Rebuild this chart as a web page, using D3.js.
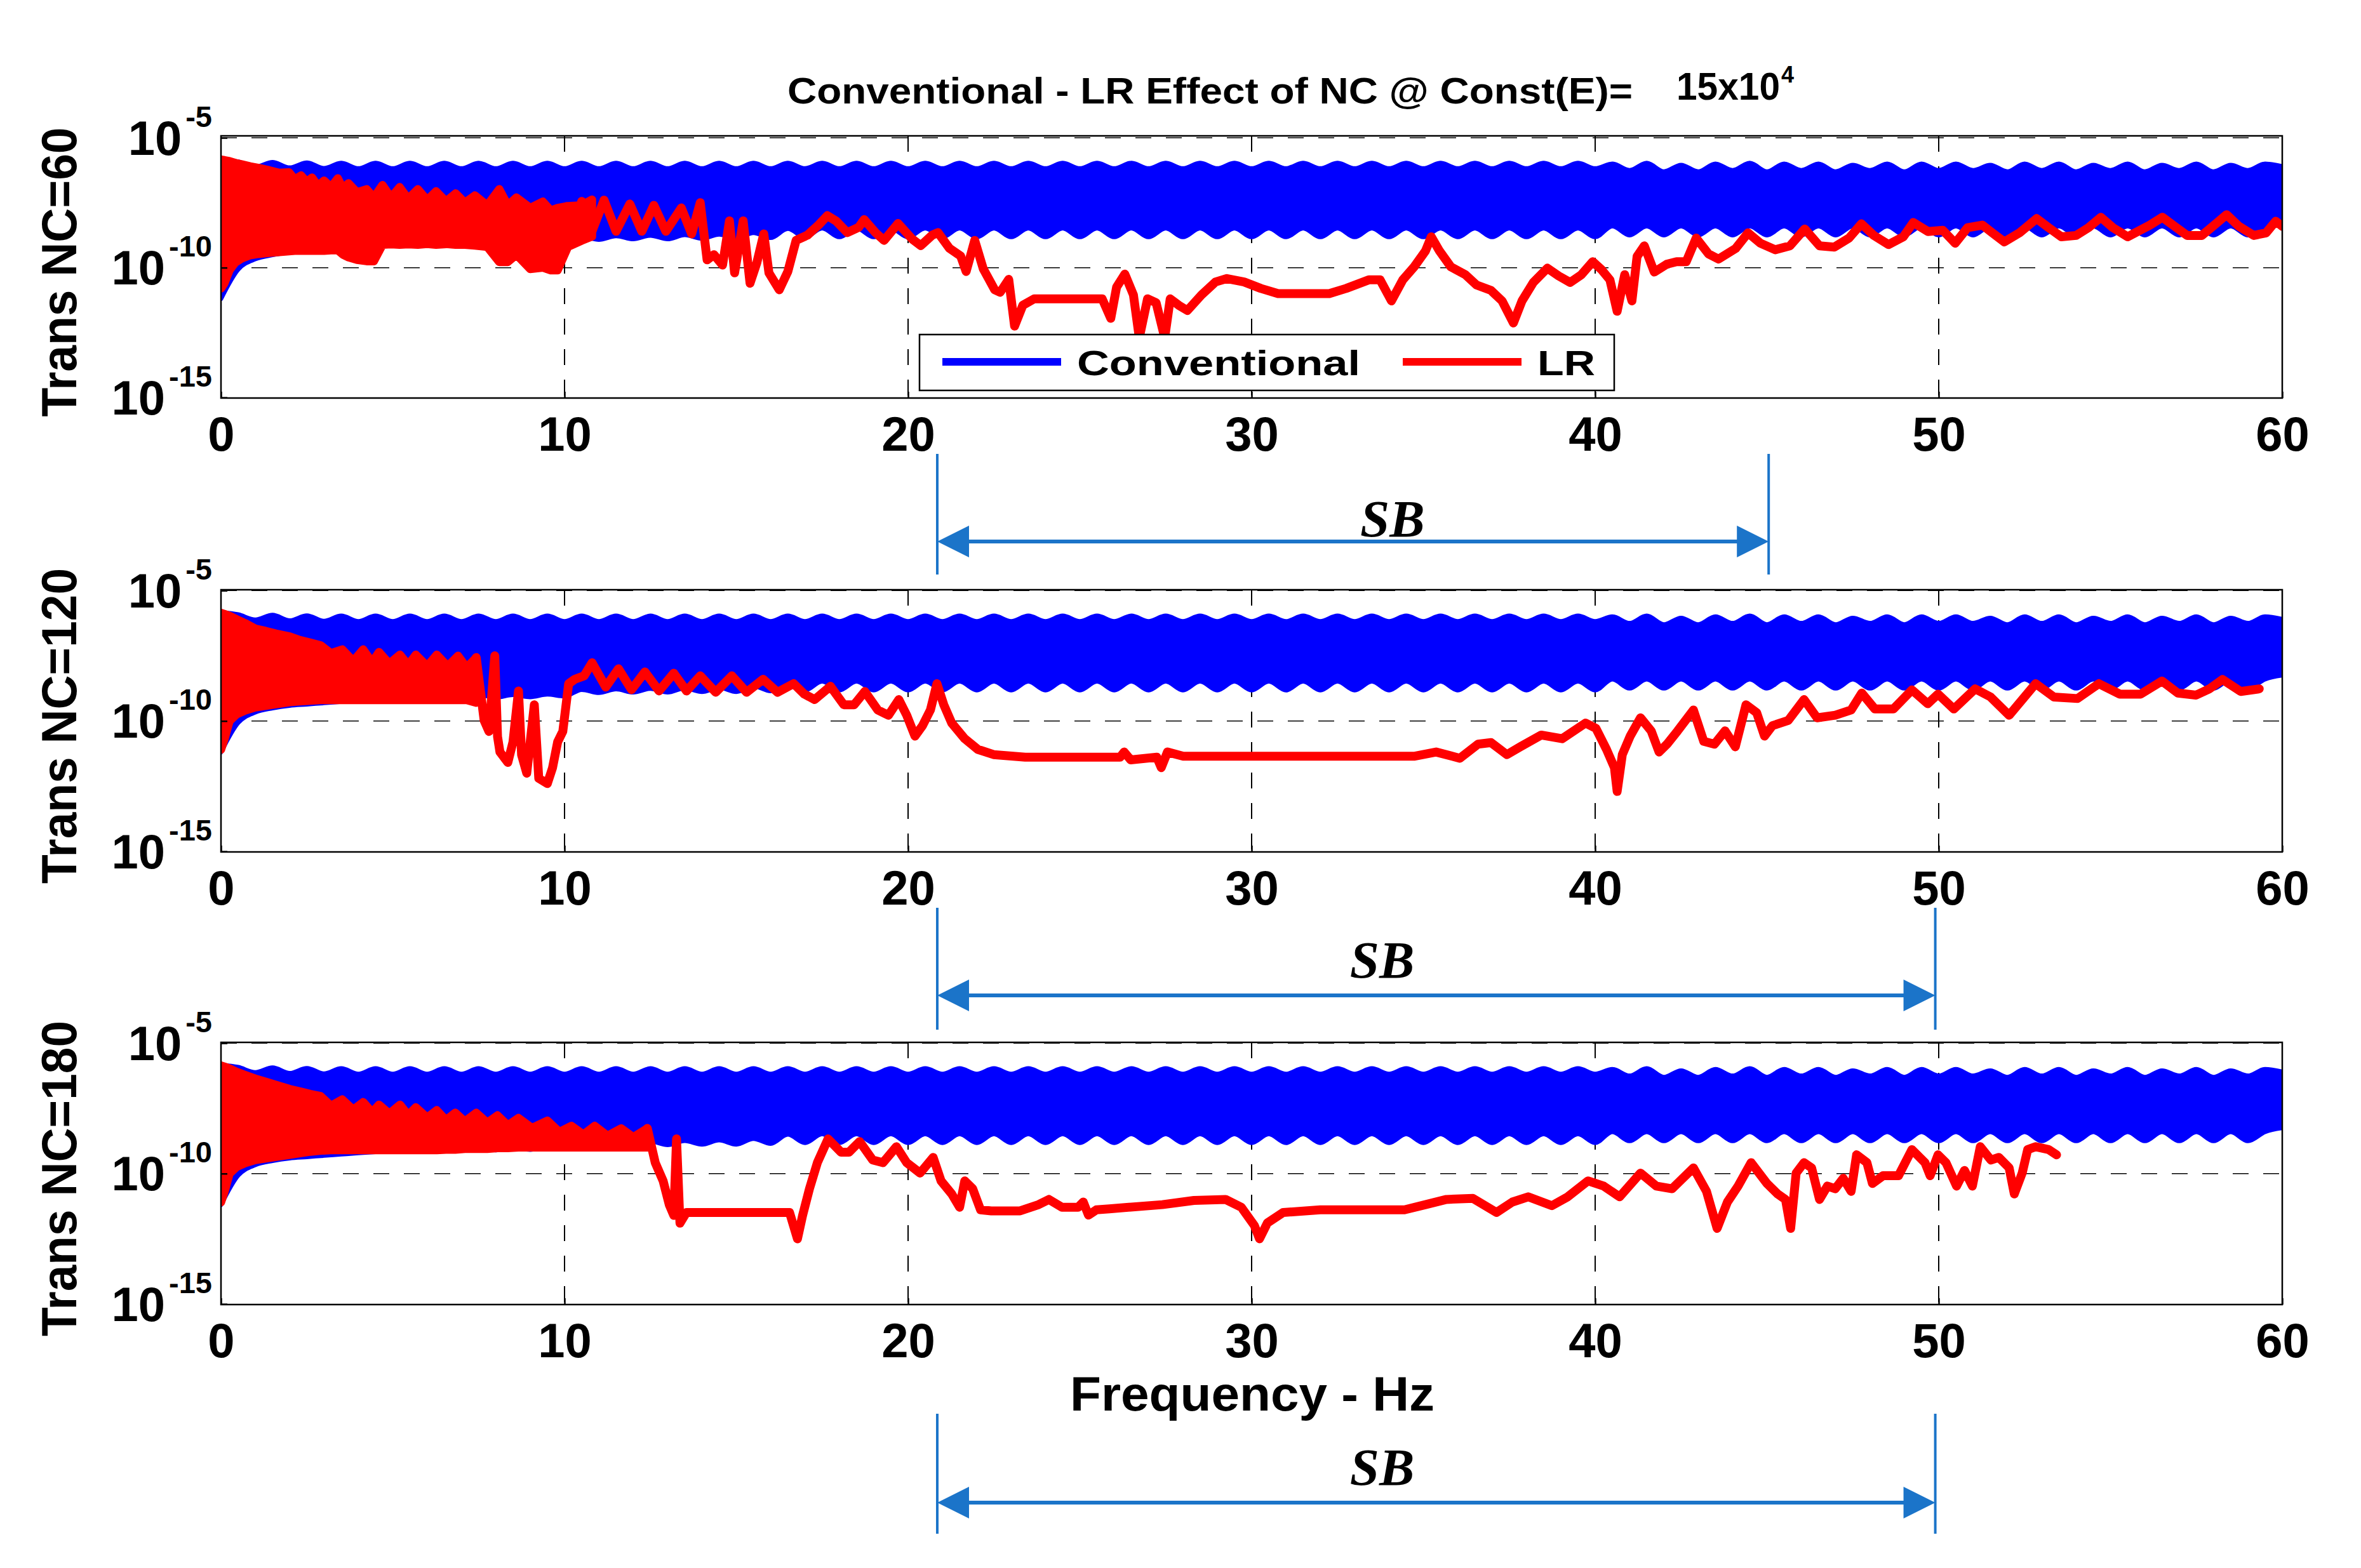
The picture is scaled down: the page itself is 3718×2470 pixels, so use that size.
<!DOCTYPE html>
<html>
<head>
<meta charset="utf-8">
<script src="https://cdn.jsdelivr.net/npm/d3@7"></script>
<style>
  body { margin: 0; background: #fff; }
  svg { display: block; }
</style>
</head>
<body>
<svg id="chart"></svg>
<script>
// ---- data ----
const xTicks = [0, 10, 20, 30, 40, 50, 60]
const yTickExps = [-15, -10, -5]
const panelLabels = ['Trans NC=60', 'Trans NC=120', 'Trans NC=180']
const seriesNames = ['Conventional', 'LR']
const titleText = 'Conventional - LR Effect of NC @ Const(E)='
const constE = ['15x10', '4']
const xLabel = 'Frequency - Hz'

// conventional response (same in every panel): envelope of the dense oscillation, exponent of 10
const convFreq = [0, 0.5, 1, 1.5, 2, 2.5, 3, 3.5, 4, 4.5, 5, 5.5, 6, 6.5, 7, 7.5, 8, 8.5, 9, 9.5,
  10, 10.5, 11, 11.5, 12, 12.5, 13, 13.5, 14, 14.5, 15, 15.5, 16, 16.5, 17, 17.5, 18, 18.5, 19, 19.5,
  20, 20.5, 21, 21.5, 22, 22.5, 23, 23.5, 24, 24.5, 25, 25.5, 26, 26.5, 27, 27.5, 28, 28.5, 29, 29.5,
  30, 30.5, 31, 31.5, 32, 32.5, 33, 33.5, 34, 34.5, 35, 35.5, 36, 36.5, 37, 37.5, 38, 38.5, 39, 39.5,
  40, 40.5, 41, 41.5, 42, 42.5, 43, 43.5, 44, 44.5, 45, 45.5, 46, 46.5, 47, 47.5, 48, 48.5, 49, 49.5,
  50, 50.5, 51, 51.5, 52, 52.5, 53, 53.5, 54, 54.5, 55, 55.5, 56, 56.5, 57, 57.5, 58, 58.5, 59, 59.5, 60]
const convUpper = [-5.84,
  -5.92, -6.12, -5.94, -6.15, -5.96, -6.17, -5.97, -6.18, -5.97, -6.18,
  -5.97, -6.18, -5.97, -6.18, -5.97, -6.18, -5.97, -6.18, -5.97, -6.18,
  -5.97, -6.18, -5.97, -6.18, -5.97, -6.18, -5.97, -6.18, -5.97, -6.18,
  -5.97, -6.18, -5.97, -6.18, -5.97, -6.18, -5.97, -6.18, -5.97, -6.18,
  -5.97, -6.18, -5.97, -6.18, -5.97, -6.18, -5.97, -6.18, -5.97, -6.18,
  -5.97, -6.18, -5.97, -6.18, -5.97, -6.18, -5.97, -6.18, -5.97, -6.18,
  -5.97, -6.18, -5.97, -6.18, -5.97, -6.18, -5.97, -6.18, -5.97, -6.18,
  -5.97, -6.18, -5.97, -6.18, -5.97, -6.18, -5.97, -6.18, -5.97, -6.18,
  -6.0, -6.25, -5.97, -6.3, -6.05, -6.3, -6.0, -6.25, -5.97, -6.3,
  -6.0, -6.25, -6.0, -6.3, -6.05, -6.25, -6.0, -6.3, -6.0, -6.25,
  -6.0, -6.25, -6.05, -6.3, -6.0, -6.25, -6.0, -6.3, -6.05, -6.25,
  -6.0, -6.3, -6.05, -6.25, -6.0, -6.3, -6.05, -6.25, -6.0, -6.1]
const convLower = [-11.2,
  -10.07, -9.67, -9.51, -9.41, -9.36, -9.31, -9.26, -9.21, -9.17, -9.14,
  -9.04, -9.12, -9.02, -9.1, -9.0, -9.1, -9.0, -9.08, -8.98, -9.05,
  -8.8, -8.92, -8.78, -8.9, -8.76, -8.9, -8.74, -8.88, -8.72, -8.88,
  -8.66, -8.85, -8.5, -8.82, -8.48, -8.82, -8.48, -8.82, -8.48, -8.82,
  -8.48, -8.82, -8.48, -8.82, -8.48, -8.82, -8.48, -8.82, -8.48, -8.82,
  -8.48, -8.82, -8.48, -8.82, -8.48, -8.82, -8.48, -8.82, -8.48, -8.82,
  -8.48, -8.82, -8.48, -8.82, -8.48, -8.82, -8.48, -8.82, -8.48, -8.82,
  -8.48, -8.82, -8.48, -8.82, -8.48, -8.82, -8.48, -8.82, -8.48, -8.82,
  -8.4, -8.75, -8.4, -8.75, -8.4, -8.75, -8.4, -8.75, -8.4, -8.75,
  -8.4, -8.75, -8.4, -8.75, -8.4, -8.75, -8.4, -8.75, -8.4, -8.75,
  -8.4, -8.75, -8.4, -8.75, -8.4, -8.75, -8.4, -8.75, -8.4, -8.75,
  -8.4, -8.75, -8.4, -8.75, -8.4, -8.75, -8.4, -8.75, -8.4, -8.25]

// LR response, dense low-frequency part: [Hz, top exponent, bottom exponent]
const lrBand60 = [[0,-5.84,-10.8],[0.1,-5.86,-10.6],[0.25,-5.9,-10.1],[0.42,-5.97,-9.8],[0.6,-6.02,-9.65],
  [0.85,-6.1,-9.52],[1.1,-6.16,-9.47],[1.4,-6.25,-9.43],[1.7,-6.35,-9.4],[1.98,-6.33,-9.37],[2.15,-6.6,-9.35],
  [2.33,-6.45,-9.35],[2.5,-6.7,-9.35],[2.65,-6.53,-9.35],[2.82,-6.85,-9.35],[3.0,-6.65,-9.35],[3.2,-6.9,-9.33],
  [3.4,-6.56,-9.33],[3.55,-6.95,-9.5],[3.71,-6.75,-9.6],[3.96,-7.1,-9.7],[4.24,-6.98,-9.75],[4.45,-7.3,-9.75],
  [4.7,-6.82,-9.12],[4.95,-7.3,-9.1],[5.2,-6.9,-9.12],[5.45,-7.35,-9.1],[5.73,-6.98,-9.12],[6.0,-7.4,-9.09],
  [6.26,-7.06,-9.12],[6.55,-7.45,-9.09],[6.83,-7.14,-9.12],[7.1,-7.5,-9.12],[7.39,-7.22,-9.15],[7.75,-7.6,-9.2],
  [8.1,-6.98,-9.78],[8.35,-7.6,-9.78],[8.6,-7.3,-9.5],[9.0,-7.7,-10.05],[9.37,-7.46,-10.0],[9.6,-7.8,-10.1],
  [9.8,-7.7,-10.1],[10.1,-7.63,-9.2],[10.5,-7.6,-8.96],[10.8,-7.38,-8.8]]
const lrBand120 = [[0,-5.86,-11.1],[0.1,-5.9,-10.7],[0.25,-5.97,-10.0],[0.45,-6.1,-9.75],[0.7,-6.25,-9.6],
  [1.0,-6.46,-9.48],[1.3,-6.55,-9.42],[1.6,-6.65,-9.36],[2.0,-6.76,-9.28],[2.3,-6.9,-9.25],[2.6,-7.0,-9.22],
  [2.9,-7.1,-9.2],[3.2,-7.4,-9.2],[3.53,-7.26,-9.2],[3.85,-7.7,-9.2],[4.14,-7.26,-9.2],[4.4,-7.75,-9.2],
  [4.6,-7.36,-9.2],[4.9,-7.8,-9.2],[5.21,-7.46,-9.2],[5.45,-7.85,-9.2],[5.67,-7.46,-9.2],[6.0,-7.9,-9.2],
  [6.28,-7.46,-9.2],[6.6,-7.9,-9.2],[6.9,-7.5,-9.2],[7.15,-7.95,-9.2],[7.43,-7.57,-9.3]]
const lrBand180 = [[0,-5.86,-11.1],[0.1,-5.9,-10.7],[0.25,-5.97,-10.0],[0.45,-6.1,-9.75],[0.7,-6.22,-9.6],
  [1.0,-6.36,-9.48],[1.3,-6.48,-9.42],[1.6,-6.6,-9.36],[2.0,-6.76,-9.28],[2.3,-6.85,-9.22],[2.6,-6.95,-9.16],
  [2.9,-7.03,-9.12],[3.2,-7.4,-9.1],[3.53,-7.16,-9.1],[3.85,-7.55,-9.1],[4.14,-7.26,-9.1],[4.4,-7.65,-9.1],
  [4.6,-7.36,-9.1],[4.9,-7.7,-9.1],[5.21,-7.36,-9.1],[5.45,-7.75,-9.1],[5.67,-7.46,-9.1],[6.0,-7.85,-9.1],
  [6.28,-7.57,-9.1],[6.55,-7.95,-9.08],[6.82,-7.67,-9.08],[7.1,-8.0,-9.05],[7.43,-7.67,-9.05],[7.75,-8.05,-9.05],
  [8.05,-7.77,-9.02],[8.35,-8.15,-9.02],[8.66,-7.87,-9.0],[9.05,-8.25,-9.0],[9.5,-7.97,-9.0],[9.85,-8.4,-9.0],
  [10.2,-8.17,-9.0],[10.55,-8.5,-9.0],[10.88,-8.17,-9.0],[11.25,-8.55,-9.0],[11.65,-8.27,-9.0],[12.0,-8.6,-9.0],
  [12.41,-8.27,-9.0]]

// LR response, remaining trace: [Hz, exponent of 10]
const lr60 = [[10.05,-7.65],[10.3,-8.5],[10.5,-7.45],
  [10.8,-8.6],[11.15,-7.4],[11.5,-8.6],[11.9,-7.55],[12.25,-8.6],[12.6,-7.6],[12.95,-8.6],[13.4,-7.7],[13.7,-8.7],
  [13.95,-7.5],[14.15,-9.7],[14.35,-9.5],[14.6,-9.9],[14.8,-8.2],[14.95,-10.2],[15.2,-8.2],[15.4,-10.6],
  [15.6,-9.8],[15.8,-8.7],[15.95,-10.2],[16.25,-10.85],[16.5,-10.15],[16.74,-8.95],[17.07,-8.75],[17.4,-8.35],
  [17.65,-8.0],[17.9,-8.2],[18.23,-8.65],[18.56,-8.45],[18.72,-8.15],[19.05,-8.65],[19.3,-8.95],[19.71,-8.3],
  [20.12,-8.9],[20.37,-9.15],[20.7,-8.75],[20.87,-8.65],[21.2,-9.25],[21.53,-9.55],[21.69,-10.15],[21.94,-8.95],
  [22.19,-10.05],[22.52,-10.85],[22.68,-10.95],[22.93,-10.45],[23.1,-12.25],[23.34,-11.45],[23.67,-11.2],
  [25.65,-11.2],[25.9,-11.95],[26.07,-10.75],[26.31,-10.25],[26.56,-11.05],[26.73,-12.7],[26.97,-11.2],
  [27.22,-11.35],[27.47,-12.7],[27.63,-11.2],[27.88,-11.45],[28.13,-11.65],[28.54,-11.05],[28.95,-10.55],
  [29.28,-10.42],[29.78,-10.55],[30.27,-10.8],[30.77,-11.0],[32.26,-11.0],[32.75,-10.8],[33.41,-10.47],
  [33.74,-10.47],[34.07,-11.28],[34.4,-10.47],[34.73,-9.97],[35.06,-9.36],[35.23,-8.81],[35.47,-9.36],
  [35.8,-9.97],[36.22,-10.27],[36.55,-10.67],[36.96,-10.87],[37.29,-11.28],[37.62,-12.13],[37.87,-11.28],
  [38.2,-10.57],[38.61,-10.02],[38.94,-10.32],[39.27,-10.57],[39.6,-10.27],[39.93,-9.77],[40.18,-10.07],
  [40.43,-10.47],[40.64,-11.68],[40.86,-10.27],[41.07,-11.28],[41.22,-9.57],[41.43,-9.16],[41.72,-10.17],
  [42.08,-9.87],[42.37,-9.77],[42.65,-9.77],[42.94,-8.86],[43.3,-9.47],[43.59,-9.67],[44.09,-9.26],[44.45,-8.66],
  [44.81,-9.06],[45.24,-9.31],[45.67,-9.16],[46.1,-8.51],[46.53,-9.16],[46.96,-9.21],[47.39,-8.86],[47.75,-8.31],
  [48.11,-8.76],[48.54,-9.11],[48.97,-8.81],[49.26,-8.26],[49.69,-8.61],[50.12,-8.56],[50.48,-9.06],[50.84,-8.46],
  [51.27,-8.36],[51.56,-8.66],[51.91,-9.01],[52.35,-8.66],[52.85,-8.11],[53.2,-8.46],[53.57,-8.81],[54.0,-8.76],
  [54.36,-8.46],[54.72,-8.06],[55.07,-8.46],[55.5,-8.81],[55.86,-8.56],[56.15,-8.36],[56.51,-8.06],[56.87,-8.41],
  [57.23,-8.76],[57.66,-8.76],[58.02,-8.36],[58.38,-7.96],[58.74,-8.41],[59.17,-8.76],[59.53,-8.66],[59.81,-8.21],
  [60.0,-8.41]]

const lr120 = [[7.43,-7.57],[7.66,-9.98],[7.8,-10.4],[7.97,-7.5],[8.05,-10.6],[8.12,-11.19],[8.35,-11.59],
  [8.5,-10.8],[8.66,-8.85],[8.75,-11.3],[8.9,-12.0],[9.12,-9.38],[9.25,-12.2],[9.5,-12.4],[9.65,-11.8],
  [9.8,-10.8],[9.95,-10.4],[10.12,-8.57],[10.3,-8.4],[10.57,-8.27],[10.8,-7.77],[11.2,-8.7],[11.57,-8.0],
  [11.95,-8.8],[12.34,-8.12],[12.75,-8.85],[13.18,-8.17],[13.55,-8.85],[13.95,-8.27],[14.4,-8.9],[14.87,-8.27],
  [15.3,-8.9],[15.78,-8.4],[16.2,-8.9],[16.67,-8.57],[16.98,-8.97],[17.28,-9.18],[17.74,-8.67],[18.13,-9.38],
  [18.43,-9.38],[18.74,-8.87],[19.12,-9.58],[19.43,-9.78],[19.73,-9.18],[19.96,-9.78],[20.2,-10.58],[20.42,-10.18],
  [20.65,-9.58],[20.84,-8.57],[21.04,-9.38],[21.27,-10.08],[21.65,-10.68],[22.03,-11.09],[22.49,-11.29],
  [23.41,-11.39],[26.17,-11.39],[26.29,-11.19],[26.48,-11.49],[27.24,-11.39],[27.37,-11.79],[27.55,-11.19],
  [28.01,-11.35],[34.75,-11.35],[35.37,-11.19],[36.06,-11.43],[36.59,-10.89],[36.97,-10.83],[37.43,-11.29],
  [37.82,-10.99],[38.43,-10.54],[39.04,-10.68],[39.72,-10.08],[40.02,-10.28],[40.33,-11.09],[40.56,-11.79],
  [40.64,-12.7],[40.79,-11.29],[41.02,-10.58],[41.32,-9.88],[41.63,-10.38],[41.86,-11.19],[42.09,-10.89],
  [42.4,-10.38],[42.86,-9.58],[43.16,-10.78],[43.47,-10.89],[43.78,-10.38],[44.08,-10.99],[44.39,-9.38],
  [44.7,-9.68],[44.93,-10.58],[45.16,-10.18],[45.62,-9.98],[46.08,-9.18],[46.46,-9.88],[46.99,-9.78],
  [47.45,-9.58],[47.76,-8.93],[48.14,-9.54],[48.68,-9.54],[49.22,-8.81],[49.68,-9.34],[49.98,-8.97],
  [50.44,-9.54],[51.06,-8.77],[51.51,-9.08],[52.05,-9.78],[52.82,-8.57],[53.35,-9.08],[54.04,-9.14],
  [54.66,-8.57],[55.27,-8.97],[55.88,-8.97],[56.5,-8.47],[56.96,-8.93],[57.49,-9.01],[57.88,-8.77],
  [58.26,-8.41],[58.79,-8.87],[59.33,-8.77]]

const lr180 = [[12.41,-8.27],[12.64,-9.58],
  [12.87,-10.28],[13.05,-11.2],[13.18,-11.6],[13.26,-8.67],[13.36,-11.9],[13.55,-11.49],[16.55,-11.49],
  [16.78,-12.5],[16.93,-11.6],[17.13,-10.58],[17.36,-9.58],[17.67,-8.67],[18.05,-9.18],[18.28,-9.18],
  [18.59,-8.77],[18.97,-9.48],[19.27,-9.58],[19.66,-8.97],[19.96,-9.58],[20.35,-9.98],[20.73,-9.38],
  [20.96,-10.28],[21.27,-10.78],[21.5,-11.29],[21.65,-10.28],[21.88,-10.58],[22.11,-11.39],[22.42,-11.43],
  [23.26,-11.43],[23.8,-11.19],[24.1,-10.99],[24.48,-11.29],[24.95,-11.29],[25.1,-11.09],[25.25,-11.59],
  [25.48,-11.39],[25.86,-11.35],[27.4,-11.19],[28.32,-11.03],[29.24,-10.99],[29.7,-11.29],[30.08,-11.99],
  [30.23,-12.5],[30.46,-11.89],[30.92,-11.49],[32.0,-11.39],[34.45,-11.39],[35.06,-11.19],[35.67,-10.99],
  [36.44,-10.95],[37.13,-11.49],[37.59,-11.09],[38.05,-10.89],[38.74,-11.23],[39.2,-10.89],[39.79,-10.28],
  [40.25,-10.48],[40.71,-10.89],[41.32,-9.98],[41.78,-10.48],[42.24,-10.58],[42.86,-9.78],[43.24,-10.68],
  [43.55,-12.1],[43.85,-11.09],[44.16,-10.48],[44.54,-9.58],[45.0,-10.38],[45.31,-10.78],[45.54,-10.99],
  [45.69,-12.1],[45.85,-9.98],[46.08,-9.58],[46.3,-9.78],[46.53,-10.99],[46.76,-10.48],[46.99,-10.58],
  [47.22,-10.18],[47.45,-10.68],[47.61,-9.28],[47.91,-9.58],[48.07,-10.38],[48.38,-10.08],[48.83,-10.08],
  [49.22,-9.08],[49.6,-9.58],[49.75,-10.08],[49.98,-9.28],[50.21,-9.58],[50.52,-10.48],[50.75,-9.88],
  [50.98,-10.48],[51.21,-8.97],[51.52,-9.48],[51.75,-9.38],[52.05,-9.78],[52.2,-10.78],[52.43,-9.98],
  [52.59,-9.08],[52.82,-8.97],[53.2,-9.08],[53.43,-9.28]]

const lrBands = [lrBand60, lrBand120, lrBand180]
const lrSets = [lr60, lr120, lr180]

// stop band markers (Hz): start, end, label position
const sbStart = [20.85, 20.85, 20.85]
const sbEnd = [45.05, 49.9, 49.9]
const sbLabelAt = [34.1, 33.8, 33.8]

// ---- layout ----
const W = 3718, H = 2470
const left = 348, right = 3594
const panelTops = [214, 929, 1642]
const panelYTop = [-4.925, -4.97, -4.97]  // upper y limit exponent
const ph = 413
const sbRows = [  // vertical extent of the markers, arrow y, label baseline
  { y0: 715, y1: 905, ay: 853, ty: 845 },
  { y0: 1430, y1: 1622, ay: 1568, ty: 1540 },
  { y0: 2227, y1: 2416, ay: 2367, ty: 2339 }
]
const blue = '#0000ff', red = '#ff0000', sbColor = '#1b74c9'
const sans = 'Arial, "Liberation Sans", sans-serif'

const svg = d3.select('#chart').attr('width', W).attr('height', H)
  .attr('font-family', sans).attr('font-weight', 'bold')
svg.append('rect').attr('width', W).attr('height', H).attr('fill', '#fff')

const x = d3.scaleLinear().domain([0, 60]).range([left, right])

panelTops.forEach((top, i) => {
  const y = d3.scaleLog().domain([10 ** -15.02, 10 ** panelYTop[i]]).range([top + ph, top])
  const g = svg.append('g')

  const clipId = 'clip' + i
  g.append('clipPath').attr('id', clipId)
    .append('rect').attr('x', left).attr('y', top).attr('width', right - left).attr('height', ph)

  // dashed grid
  const grid = g.append('g').attr('stroke', '#000').attr('stroke-dasharray', '25,23')
  grid.selectAll('.vg').data(xTicks.slice(1, -1)).join('line')
    .attr('stroke-width', 2)
    .attr('x1', d => x(d)).attr('x2', d => x(d)).attr('y1', top).attr('y2', top + ph)
  grid.selectAll('.hg').data(yTickExps.slice(1)).join('line')
    .attr('stroke-width', 1.5)
    .attr('x1', left).attr('x2', right).attr('y1', d => y(10 ** d)).attr('y2', d => y(10 ** d))

  const plot = g.append('g').attr('clip-path', `url(#${clipId})`)

  // conventional band
  const conv = convFreq.map((f, k) => ({ f, hi: 10 ** convUpper[k], lo: 10 ** convLower[k] }))
  plot.append('path').datum(conv)
    .attr('fill', blue).attr('stroke', blue).attr('stroke-width', 7).attr('stroke-linejoin', 'round')
    .attr('d', d3.area().curve(d3.curveMonotoneX).x(d => x(d.f)).y0(d => y(d.lo)).y1(d => y(d.hi)))

  // LR: dense part as a band, then the trace
  plot.append('path').datum(lrBands[i])
    .attr('fill', red).attr('stroke', red).attr('stroke-width', 13).attr('stroke-linejoin', 'round')
    .attr('d', d3.area().x(d => x(d[0])).y0(d => y(10 ** d[2])).y1(d => y(10 ** d[1])))
  plot.append('path').datum(lrSets[i])
    .attr('fill', 'none').attr('stroke', red).attr('stroke-width', 14)
    .attr('stroke-linejoin', 'round').attr('stroke-linecap', 'round')
    .attr('d', d3.line().x(d => x(d[0])).y(d => y(10 ** d[1])))

  // axes
  const xAxis = g.append('g').attr('transform', `translate(0,${top + ph})`)
    .call(d3.axisBottom(x).tickValues(xTicks).tickSize(-10).tickPadding(29))
  xAxis.select('.domain').remove()
  xAxis.selectAll('.tick line').attr('stroke', '#000').attr('stroke-width', 2.5)
  xAxis.selectAll('.tick text').attr('font-size', 76).attr('font-family', sans)
    .attr('font-weight', 'bold').attr('fill', '#000')

  const yAxis = g.append('g').attr('transform', `translate(${left},0)`)
    .call(d3.axisLeft(y).tickValues(yTickExps.map(e => 10 ** e)).tickSize(-10).tickFormat(''))
  yAxis.select('.domain').remove()
  yAxis.selectAll('.tick line').attr('stroke', '#000').attr('stroke-width', 2.5)
  yAxis.selectAll('.tick').each(function (d) {
    const t = d3.select(this).append('text')
      .attr('x', -14).attr('y', 26).attr('text-anchor', 'end').attr('fill', '#000')
      .attr('font-family', sans).attr('font-weight', 'bold')
    t.append('tspan').attr('font-size', 76).text('10')
    t.append('tspan').attr('font-size', 47).attr('dx', 6).attr('dy', -44).text(String(Math.round(Math.log10(d))))
  })

  g.append('rect').attr('x', left).attr('y', top).attr('width', right - left).attr('height', ph)
    .attr('fill', 'none').attr('stroke', '#000').attr('stroke-width', 2.5)

  // y label
  const yl = top + ph / 2 + 8
  g.append('text').attr('transform', `translate(120,${yl}) rotate(-90)`)
    .attr('text-anchor', 'middle').attr('font-size', 78)
    .attr('textLength', i === 0 ? 456 : 497).attr('lengthAdjust', 'spacingAndGlyphs')
    .text(panelLabels[i])

  // stop band marker
  const r = sbRows[i]
  const sb = svg.append('g').attr('fill', sbColor).attr('stroke', sbColor)
  const xa = x(sbStart[i]), xb = x(sbEnd[i])
  sb.append('line').attr('x1', xa).attr('x2', xa).attr('y1', r.y0).attr('y2', r.y1).attr('stroke-width', 4)
  sb.append('line').attr('x1', xb).attr('x2', xb).attr('y1', r.y0).attr('y2', r.y1).attr('stroke-width', 4)
  sb.append('line').attr('x1', xa + 40).attr('x2', xb - 40).attr('y1', r.ay).attr('y2', r.ay).attr('stroke-width', 6)
  sb.append('path').attr('stroke', 'none')
    .attr('d', `M${xa},${r.ay}L${xa + 50},${r.ay - 25}L${xa + 50},${r.ay + 25}Z`)
  sb.append('path').attr('stroke', 'none')
    .attr('d', `M${xb},${r.ay}L${xb - 50},${r.ay - 25}L${xb - 50},${r.ay + 25}Z`)
  svg.append('text').attr('x', x(sbLabelAt[i])).attr('y', r.ty).attr('text-anchor', 'middle')
    .attr('font-family', '"Liberation Serif", "Times New Roman", serif')
    .attr('font-style', 'italic').attr('font-weight', 'bold').attr('font-size', 83).attr('fill', '#000')
    .text('SB')
})

// legend in the first panel
const leg = svg.append('g')
leg.append('rect').attr('x', 1448).attr('y', 527).attr('width', 1094).attr('height', 88)
  .attr('fill', '#fff').attr('stroke', '#000').attr('stroke-width', 2.5)
leg.append('line').attr('x1', 1484).attr('x2', 1671).attr('y1', 570).attr('y2', 570)
  .attr('stroke', blue).attr('stroke-width', 12)
leg.append('text').attr('x', 1696).attr('y', 591).attr('font-size', 56)
  .attr('textLength', 446).attr('lengthAdjust', 'spacingAndGlyphs').text(seriesNames[0])
leg.append('line').attr('x1', 2209).attr('x2', 2396).attr('y1', 570).attr('y2', 570)
  .attr('stroke', red).attr('stroke-width', 12)
leg.append('text').attr('x', 2421).attr('y', 591).attr('font-size', 56)
  .attr('textLength', 91).attr('lengthAdjust', 'spacingAndGlyphs').text(seriesNames[1])

// title
svg.append('text').attr('x', 1240).attr('y', 163).attr('font-size', 58)
  .attr('textLength', 1331).attr('lengthAdjust', 'spacingAndGlyphs').text(titleText)
svg.append('text').attr('x', 2640).attr('y', 157).attr('font-size', 62)
  .attr('font-family', '"Liberation Sans Narrow", "Arial Narrow", "Liberation Sans", sans-serif')
  .attr('textLength', 163).attr('lengthAdjust', 'spacingAndGlyphs').text(constE[0])
svg.append('text').attr('x', 2805).attr('y', 130).attr('font-size', 36)
  .attr('font-family', '"Liberation Sans Narrow", "Arial Narrow", "Liberation Sans", sans-serif')
  .text(constE[1])

// x label
svg.append('text').attr('x', 1685).attr('y', 2222).attr('font-size', 76)
  .attr('textLength', 574).attr('lengthAdjust', 'spacingAndGlyphs').text(xLabel)
</script>
</body>
</html>
